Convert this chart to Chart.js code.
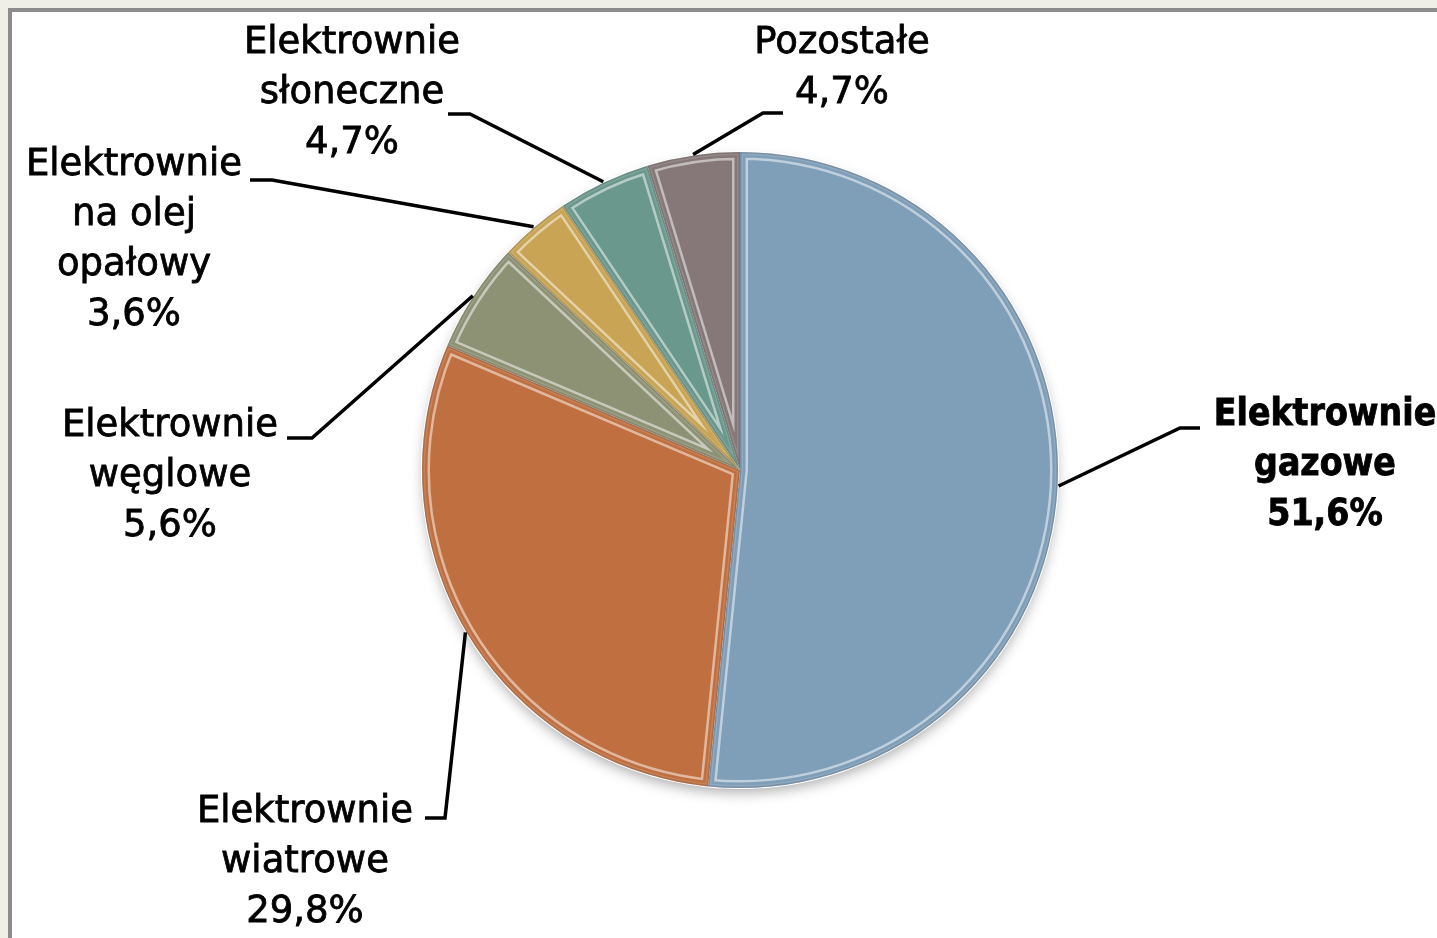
<!DOCTYPE html>
<html lang="pl">
<head>
    <meta charset="UTF-8">
    <title>Struktura mocy elektrowni</title>
    <style>
        * { margin: 0; padding: 0; box-sizing: border-box; }
        body { width: 1437px; height: 938px; background: #efeee7; overflow: hidden; position: relative; }
        /* white sheet with grey top/left rule */
        .frame {
            position: absolute; left: 8px; top: 8px; right: -10px; bottom: -10px;
            background: #fff; border-top: 4px solid #8c8c8c; border-left: 4px solid #8c8c8c;
        }
        .chart-box { position: absolute; left: 0; top: 0; width: 1437px; height: 938px; }
    </style>
</head>
<body>
    <div class="frame"></div>
    <div class="chart-box"><canvas id="pieChart"></canvas></div>

    <script src="https://cdn.jsdelivr.net/npm/chart.js"></script>
    <script>
        // Data
        const categories = [
            ["Elektrownie", "gazowe"],
            ["Elektrownie", "wiatrowe"],
            ["Elektrownie", "węglowe"],
            ["Elektrownie", "na olej", "opałowy"],
            ["Elektrownie", "słoneczne"],
            ["Pozostałe"]
        ];
        const shares = [51.6, 29.8, 5.6, 3.6, 4.7, 4.7];
        const sliceColors = ["#7f9eb8", "#c07040", "#8e9274", "#c8a454", "#6a988c", "#867878"];

        // Label placement: text centre x, first line y, leader end and elbow
        const labelLayout = [
            { x: 1325, y: 415, end: [1200, 428], elbow: [1180, 428], bold: true },
            { x: 305, y: 812, end: [425, 818], elbow: [445, 818] },
            { x: 170, y: 426, end: [287, 438], elbow: [312, 438] },
            { x: 134, y: 165, end: [250, 180], elbow: [272, 180] },
            { x: 352, y: 43, end: [448, 114], elbow: [470, 114] },
            { x: 842, y: 43, end: [783, 113], elbow: [763, 113] }
        ];

        const fmt = v => v.toFixed(1).replace(".", ",") + "%";

        // Soft shadow under the pie
        const shadowPlugin = {
            id: "pieShadow",
            beforeDatasetsDraw(chart) {
                const arc = chart.getDatasetMeta(0).data[0];
                if (!arc) return;
                const ctx = chart.ctx;
                ctx.save();
                ctx.shadowColor = "rgba(0,0,0,0.35)";
                ctx.shadowBlur = 14;
                ctx.shadowOffsetY = 6;
                ctx.fillStyle = "#999";
                ctx.beginPath();
                ctx.arc(arc.x, arc.y, arc.outerRadius - 2, 0, Math.PI * 2);
                ctx.fill();
                ctx.restore();
            }
        };

        // Bevel highlight along slice edges
        const bevelPlugin = {
            id: "bevel",
            afterDatasetsDraw(chart) {
                const ctx = chart.ctx;
                chart.getDatasetMeta(0).data.forEach((arc, i) => {
                    const p = new Path2D();
                    p.moveTo(arc.x, arc.y);
                    p.arc(arc.x, arc.y, arc.outerRadius, arc.startAngle, arc.endAngle);
                    p.closePath();
                    ctx.save();
                    ctx.clip(p);
                    ctx.lineJoin = "round";
                    ctx.lineWidth = 16;
                    ctx.strokeStyle = "rgba(255,255,255,0.5)";
                    ctx.stroke(p);
                    ctx.lineWidth = 11;
                    ctx.strokeStyle = sliceColors[i];
                    ctx.stroke(p);
                    ctx.lineWidth = 6;
                    ctx.strokeStyle = "rgba(255,255,255,0.12)";
                    ctx.stroke(p);
                    ctx.lineWidth = 3;
                    ctx.strokeStyle = "rgba(0,0,0,0.15)";
                    ctx.stroke(p);
                    ctx.restore();
                });
            }
        };

        // Category labels with leader lines
        const labelPlugin = {
            id: "leaderLabels",
            afterDraw(chart) {
                const ctx = chart.ctx;
                const meta = chart.getDatasetMeta(0);
                ctx.save();
                meta.data.forEach((arc, i) => {
                    const L = labelLayout[i];
                    const mid = (arc.startAngle + arc.endAngle) / 2;
                    const r = arc.outerRadius + 1;
                    ctx.strokeStyle = "#000";
                    ctx.lineWidth = 3.5;
                    ctx.beginPath();
                    ctx.moveTo(arc.x + Math.cos(mid) * r, arc.y + Math.sin(mid) * r);
                    ctx.lineTo(L.elbow[0], L.elbow[1]);
                    ctx.lineTo(L.end[0], L.end[1]);
                    ctx.stroke();

                    const lines = categories[i].concat([fmt(shares[i])]);
                    ctx.fillStyle = "#000";
                    ctx.textAlign = "center";
                    ctx.textBaseline = "middle";
                    ctx.font = L.bold
                        ? "bold 37px 'DejaVu Sans Condensed', 'DejaVu Sans', sans-serif"
                        : "37px 'DejaVu Sans', sans-serif";
                    ctx.lineWidth = 0.8;
                    lines.forEach((t, k) => {
                        ctx.fillText(t, L.x, L.y + k * 50);
                        ctx.strokeText(t, L.x, L.y + k * 50);
                    });
                });
                ctx.restore();
            }
        };

        new Chart(document.getElementById("pieChart"), {
            type: "pie",
            data: {
                labels: categories.map(c => c.join(" ")),
                datasets: [{
                    data: shares,
                    backgroundColor: sliceColors,
                    borderColor: "#ffffff",
                    borderWidth: 2
                }]
            },
            options: {
                responsive: true,
                maintainAspectRatio: false,
                animation: false,
                layout: { padding: { left: 300, right: 257, top: 151, bottom: 149 } },
                plugins: {
                    legend: { display: false },
                    tooltip: { enabled: false }
                }
            },
            plugins: [shadowPlugin, bevelPlugin, labelPlugin]
        });
    </script>
</body>
</html>
